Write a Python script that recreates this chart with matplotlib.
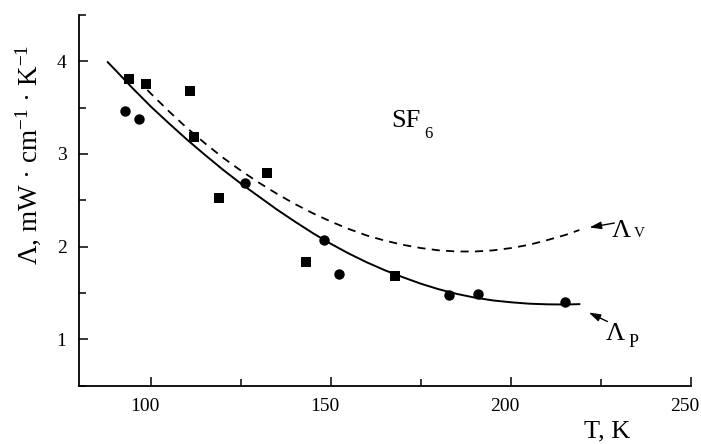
import matplotlib
matplotlib.use("Agg")
import matplotlib.pyplot as plt
from matplotlib.ticker import MultipleLocator
from matplotlib.transforms import ScaledTranslation

plt.rcParams["font.family"] = ["Liberation Serif", "DejaVu Serif"]
plt.rcParams["mathtext.fontset"] = "custom"
plt.rcParams["mathtext.rm"] = "Liberation Serif"
plt.rcParams["mathtext.it"] = "Liberation Serif:italic"

# measured points, SF6
T_sq = [93.8, 98.7, 110.8, 112.0, 119.0, 132.1, 143.1, 167.8]
L_sq = [3.81, 3.75, 3.68, 3.18, 2.53, 2.80, 1.84, 1.68]

T_ci = [92.7, 96.8, 126.0, 148.0, 152.2, 182.8, 190.7, 214.9]
L_ci = [3.46, 3.38, 2.69, 2.07, 1.71, 1.48, 1.49, 1.40]

# Lambda_P (solid)
T_p = [88, 90, 95, 100, 105, 110, 115, 120, 125, 130, 135, 140, 145, 150,
       155, 160, 165, 170, 175, 180, 185, 190, 195, 200, 205, 210, 215, 219]
L_p = [3.99, 3.91, 3.705, 3.51, 3.33, 3.155, 2.99, 2.83, 2.68, 2.54, 2.40,
       2.27, 2.145, 2.03, 1.925, 1.83, 1.745, 1.67, 1.60, 1.54, 1.49, 1.45,
       1.42, 1.40, 1.385, 1.378, 1.376, 1.38]

# Lambda_V (dashed)
T_v = [99, 100, 105, 110, 115, 120, 125, 130, 135, 140, 145, 150, 155, 160,
       165, 170, 175, 180, 185, 190, 195, 200, 205, 210, 215, 219]
L_v = [3.69, 3.65, 3.46, 3.28, 3.115, 2.96, 2.82, 2.69, 2.57, 2.46, 2.36,
       2.27, 2.19, 2.12, 2.065, 2.02, 1.985, 1.96, 1.948, 1.948, 1.96, 1.985,
       2.02, 2.07, 2.125, 2.18]

fig = plt.figure(figsize=(7.01, 4.44), dpi=100)
ax = fig.add_axes([0.1127, 0.1313, 0.873, 0.835])

ax.plot(T_p, L_p, color="black", lw=1.4)
ax.plot(T_v, L_v, color="black", lw=1.3, dashes=(4.5, 3.5))
ax.plot(T_sq, L_sq, "s", color="black", ms=6.8, mew=0)
ax.plot(T_ci, L_ci, "o", color="black", ms=7.5, mew=0)

ax.set_xlim(80, 250)
ax.set_ylim(0.5, 4.5)
ax.xaxis.set_major_locator(MultipleLocator(50))
ax.xaxis.set_minor_locator(MultipleLocator(25))
ax.yaxis.set_major_locator(MultipleLocator(1))
ax.yaxis.set_minor_locator(MultipleLocator(0.5))

for s in ["top", "right"]:
    ax.spines[s].set_visible(False)
for s in ["left", "bottom"]:
    ax.spines[s].set_linewidth(1.3)

ax.tick_params(which="major", direction="in", length=6.5, width=1.1,
               labelsize=14, pad=9)
ax.tick_params(which="minor", direction="in", length=5, width=1.1)

# x tick labels sit a little left of their ticks
shift = ScaledTranslation(-6 / 100, 0, fig.dpi_scale_trans)
for lbl in ax.get_xticklabels():
    lbl.set_transform(lbl.get_transform() + shift)

# labels
ax.text(166.8, 3.295, "SF", fontsize=19)
ax.text(175.9, 3.176, "6", fontsize=12)

ax.text(228.1, 2.107, "Λ", fontsize=19)
ax.text(234.2, 2.107, "V", fontsize=11)
ax.text(226.4, 0.995, "Λ", fontsize=19)
ax.text(232.6, 0.919, "P", fontsize=13)

arrow = dict(arrowstyle="-|>,head_length=0.7,head_width=0.22", lw=1,
             color="black", shrinkA=0, shrinkB=0)
ax.annotate("", xy=(221.8, 2.207), xytext=(228.7, 2.255), arrowprops=arrow)
ax.annotate("", xy=(221.6, 1.29), xytext=(226.8, 1.192), arrowprops=arrow)

fig.text(0.04, 0.651, "Λ, mW · cm$^{-1}$ · K$^{-1}$", rotation=90,
         ha="center", va="center", fontsize=19.5)
fig.text(0.866, 0.029, "T, K", ha="center", va="center", fontsize=19)

fig.savefig("out.png", dpi=100)
